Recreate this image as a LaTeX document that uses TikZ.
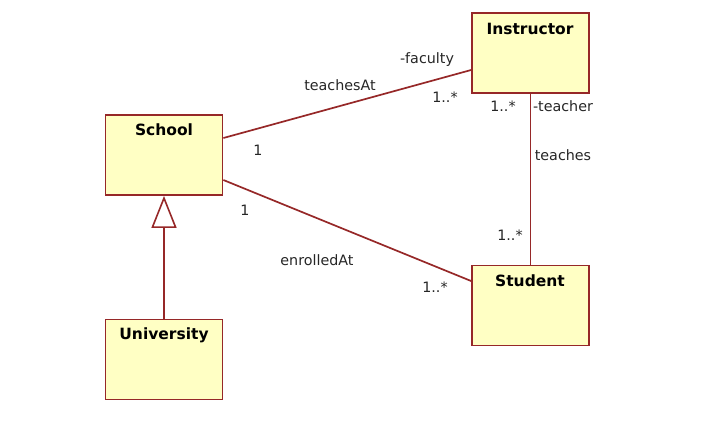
\documentclass[tikz,border=0pt]{standalone}
\usepackage{fontspec}
\setmainfont{DejaVu Sans}
\usetikzlibrary{arrows.meta}
\definecolor{clsfill}{RGB}{255,255,196}
\definecolor{clsline}{RGB}{150,40,40}
\tikzset{
  cls/.style={draw=clsline, fill=clsfill, line width=1.8pt, minimum width=117pt, minimum height=80pt, inner sep=0pt},
  clsname/.style={font=\fontsize{15.5}{18}\selectfont\bfseries},
  assoc/.style={draw=clsline, line width=1.7pt},
  lbl/.style={font=\fontsize{14.3}{17}\selectfont, inner sep=0pt, text=black!85}
}
\begin{document}
\begin{tikzpicture}[x=1pt,y=-1pt]
\useasboundingbox (0,0) rectangle (720,424);
\node[cls] (school) at (164,155) {};
\node[cls] (instructor) at (530.5,53) {};
\node[cls] (student) at (530.5,305.5) {};
\node[cls] (university) at (164,359.5) {};
\node[clsname] (schoolname) at (164,130) {School};
\node[clsname] (instructorname) at (530,29) {Instructor};
\node[clsname] (studentname) at (530,281) {Student};
\node[clsname] (universityname) at (164,335) {University};
\draw[assoc] ([yshift=17pt]school.east) -- ([yshift=-17pt]instructor.west);
\draw[assoc] ([yshift=-25pt]school.east) -- ([yshift=24.5pt]student.west);
\draw[assoc] (instructor.south) -- (student.north);
\draw[assoc, -{Triangle[open, length=32pt, width=25pt, line width=1.6pt]}] (university.north) -- (school.south);
\node[lbl] (faculty) at (427,60) {-faculty};
\node[lbl] (teachesat) at (340,85) {teachesAt};
\node[lbl] (m1) at (445,97) {1..*};
\node[lbl] (m2) at (503,106) {1..*};
\node[lbl] (teacher) at (563,106) {-teacher};
\node[lbl] (one1) at (258,150) {1};
\node[lbl] (teaches) at (563,155) {teaches};
\node[lbl] (one2) at (245,210) {1};
\node[lbl] (m3) at (510,235) {1..*};
\node[lbl] (enrolled) at (317,260) {enrolledAt};
\node[lbl] (m4) at (435,287) {1..*};
\end{tikzpicture}
\end{document}
